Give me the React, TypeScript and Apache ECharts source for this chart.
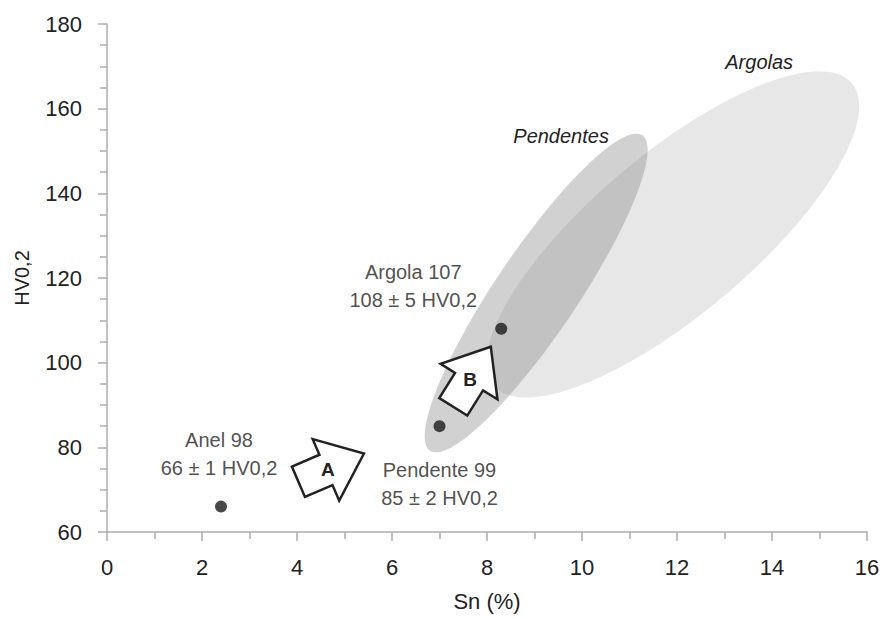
import React, { useEffect, useRef } from 'react';
import * as echarts from 'echarts';

// ---- data ----
const SAMPLES = ['Anel 98', 'Pendente 99', 'Argola 107'];
const SN = [2.4, 7.0, 8.3];
const HV = [66, 85, 108];
const HV_ERR = [1, 2, 5];

const X_TICKS = [0, 2, 4, 6, 8, 10, 12, 14, 16];
const Y_TICKS = [60, 80, 100, 120, 140, 160, 180];

// composition fields: major-axis end points (Sn %, HV0,2) and minor/major ratio
const FIELD_NAMES = ['Argolas', 'Pendentes'];
const FIELD_X1 = [8.14, 6.8];
const FIELD_Y1 = [94.6, 79.2];
const FIELD_X2 = [15.68, 11.27];
const FIELD_Y2 = [166.0, 153.7];
const FIELD_RATIO = [0.342, 0.216];
const FIELD_LABEL_X = [13.73, 9.56];
const FIELD_LABEL_Y = [171.1, 153.6];

// trend arrows: tail and tip (Sn %, HV0,2)
const ARROW_NAMES = ['A', 'B'];
const ARROW_X0 = [4.03, 7.29];
const ARROW_Y0 = [71.87, 89.56];
const ARROW_X1 = [5.41, 8.08];
const ARROW_Y1 = [78.54, 103.76];

const FONT = "'Liberation Sans', Arial, sans-serif";
const TEXT = '#222222';

export default function App() {
  const ref = useRef<HTMLDivElement>(null);

  useEffect(() => {
    if (!ref.current) return;
    const chart = echarts.init(ref.current, null, { renderer: 'svg' });

    const fieldData = FIELD_NAMES.map((_, i) => [
      FIELD_X1[i], FIELD_Y1[i], FIELD_X2[i], FIELD_Y2[i], FIELD_RATIO[i], FIELD_LABEL_X[i], FIELD_LABEL_Y[i],
    ]);
    const fieldFill = ['#e7e7e8', 'rgba(140,140,140,0.4)'];

    const arrowData = ARROW_NAMES.map((_, i) => [ARROW_X0[i], ARROW_Y0[i], ARROW_X1[i], ARROW_Y1[i]]);

    const labelPos: any[] = [
      { position: 'inside', offset: [-2, -53] },
      { position: 'inside', offset: [0, 58] },
      { position: 'inside', offset: [-88, -43] },
    ];

    const scatterData = SAMPLES.map((name, i) => ({
      name,
      value: [SN[i], HV[i]],
      label: labelPos[i],
    }));

    const axisGrey = '#acacac';

    const option: any = {
      animation: false,
      backgroundColor: '#ffffff',
      grid: { left: 107, right: 17, top: 24, bottom: 87, containLabel: false },
      xAxis: {
        type: 'value',
        min: X_TICKS[0],
        max: X_TICKS[X_TICKS.length - 1],
        interval: 2,
        name: 'Sn (%)',
        nameLocation: 'middle',
        nameGap: 58,
        nameTextStyle: { fontFamily: FONT, fontSize: 22, color: TEXT },
        axisLine: { lineStyle: { color: axisGrey, width: 1.5 } },
        axisTick: { show: true, length: 9, lineStyle: { color: axisGrey, width: 1.5 } },
        minorTick: { show: true, splitNumber: 2, length: 7, lineStyle: { color: axisGrey, width: 1.5 } },
        splitLine: { show: false },
        axisLabel: { fontFamily: FONT, fontSize: 22, color: TEXT, margin: 24 },
      },
      yAxis: {
        type: 'value',
        min: Y_TICKS[0],
        max: Y_TICKS[Y_TICKS.length - 1],
        interval: 20,
        name: 'HV0,2',
        nameLocation: 'middle',
        nameGap: 75,
        nameTextStyle: { fontFamily: FONT, fontSize: 20, color: TEXT },
        axisLine: { show: true, lineStyle: { color: axisGrey, width: 1.5 } },
        axisTick: { show: true, length: 9, lineStyle: { color: axisGrey, width: 1.5 } },
        minorTick: { show: true, splitNumber: 4, length: 7, lineStyle: { color: axisGrey, width: 1.5 } },
        splitLine: { show: false },
        axisLabel: { fontFamily: FONT, fontSize: 22, color: TEXT, margin: 25 },
      },
      series: [
        {
          type: 'custom',
          name: 'fields',
          data: fieldData,
          encode: { x: [0, 2], y: [1, 3] },
          silent: true,
          z: 1,
          renderItem: (params: any, api: any) => {
            const i = params.dataIndex;
            const p1 = api.coord([api.value(0), api.value(1)]);
            const p2 = api.coord([api.value(2), api.value(3)]);
            const cx = (p1[0] + p2[0]) / 2;
            const cy = (p1[1] + p2[1]) / 2;
            const dx = p2[0] - p1[0];
            const dy = p2[1] - p1[1];
            const a = Math.hypot(dx, dy) / 2;
            const b = a * api.value(4);
            const ux = dx / (2 * a);
            const uy = dy / (2 * a);
            const pts: number[][] = [];
            const N = 160;
            for (let k = 0; k < N; k++) {
              const t = (k / N) * Math.PI * 2;
              const ca = Math.cos(t) * a;
              const sb = Math.sin(t) * b;
              pts.push([cx + ca * ux - sb * uy, cy + ca * uy + sb * ux]);
            }
            const lp = api.coord([api.value(5), api.value(6)]);
            return {
              type: 'group',
              children: [
                { type: 'polygon', shape: { points: pts }, style: { fill: fieldFill[i], stroke: 'none' } },
                {
                  type: 'text',
                  x: lp[0],
                  y: lp[1],
                  z2: 10,
                  style: {
                    text: FIELD_NAMES[i],
                    fill: TEXT,
                    fontFamily: FONT,
                    fontSize: 20,
                    fontStyle: 'italic',
                    align: 'center',
                    verticalAlign: 'middle',
                  },
                },
              ],
            };
          },
        },
        {
          type: 'custom',
          name: 'arrows',
          data: arrowData,
          encode: { x: [0, 2], y: [1, 3] },
          silent: true,
          z: 2,
          renderItem: (params: any, api: any) => {
            const i = params.dataIndex;
            const p0 = api.coord([api.value(0), api.value(1)]);
            const p1 = api.coord([api.value(2), api.value(3)]);
            const dx = p1[0] - p0[0];
            const dy = p1[1] - p0[1];
            const L = Math.hypot(dx, dy);
            const ux = dx / L;
            const uy = dy / L;
            const nx = -uy;
            const ny = ux;
            const sh = 16.5;
            const hh = 33.5;
            const bl = L * 0.42;
            const bx = p0[0] + ux * bl;
            const by = p0[1] + uy * bl;
            const pts = [
              [p1[0], p1[1]],
              [bx + nx * hh, by + ny * hh],
              [bx + nx * sh, by + ny * sh],
              [p0[0] + nx * sh, p0[1] + ny * sh],
              [p0[0] - nx * sh, p0[1] - ny * sh],
              [bx - nx * sh, by - ny * sh],
              [bx - nx * hh, by - ny * hh],
            ];
            const tx = p0[0] + ux * L * 0.45;
            const ty = p0[1] + uy * L * 0.45;
            return {
              type: 'group',
              children: [
                {
                  type: 'polygon',
                  shape: { points: pts },
                  style: { fill: '#ffffff', stroke: '#222222', lineWidth: 2.5, lineJoin: 'miter' },
                },
                {
                  type: 'text',
                  x: tx,
                  y: ty,
                  style: {
                    text: ARROW_NAMES[i],
                    fill: '#222222',
                    fontFamily: FONT,
                    fontSize: 19,
                    fontWeight: 'bold',
                    align: 'center',
                    verticalAlign: 'middle',
                  },
                },
              ],
            };
          },
        },
        {
          type: 'scatter',
          name: 'samples',
          data: scatterData,
          symbol: 'circle',
          symbolSize: 12,
          z: 3,
          itemStyle: { color: '#1a1a1a' },
          label: {
            show: true,
            fontFamily: FONT,
            fontSize: 20,
            lineHeight: 28,
            color: TEXT,
            align: 'center',
            verticalAlign: 'middle',
            formatter: (p: any) => {
              const i = p.dataIndex;
              return `${SAMPLES[i]}\n${HV[i]} ± ${HV_ERR[i]} HV0,2`;
            },
          },
        },
      ],
    };

    chart.setOption(option);
    return () => chart.dispose();
  }, []);

  return (
    <div
      ref={ref}
      style={{ position: 'fixed', left: 0, top: 0, width: 884, height: 619, background: '#fff' }}
    />
  );
}
